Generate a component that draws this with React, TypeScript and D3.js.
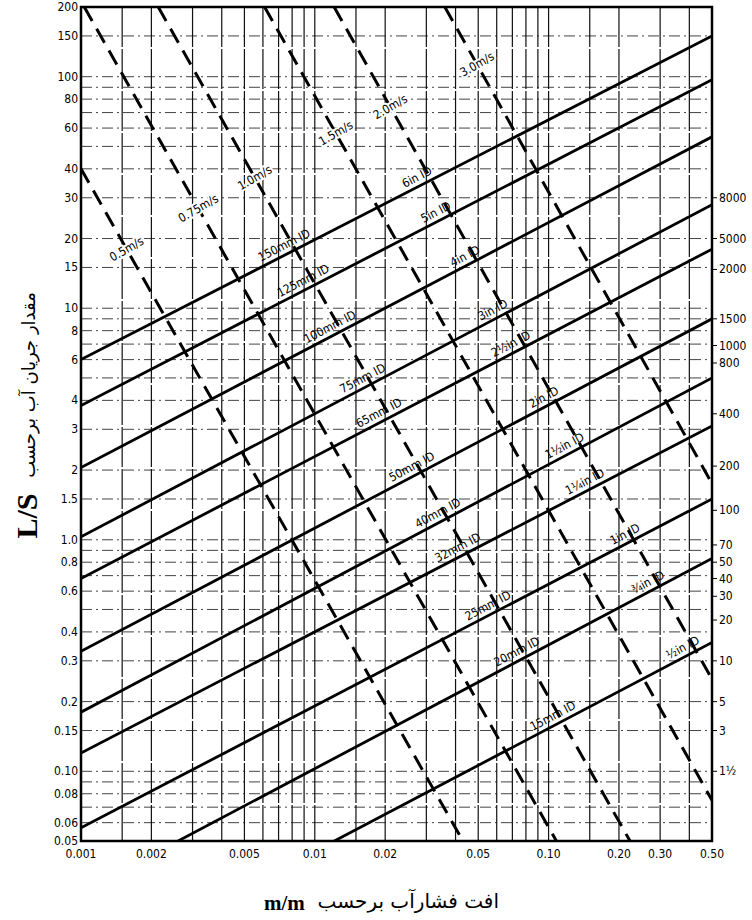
import React from 'react';
import * as d3 from 'd3';

const W = 752;
const H = 920;

// axis domains (pressure drop m/m, flow L/S)
const xDomain: [number, number] = [0.001, 0.5];
const yDomain: [number, number] = [0.05, 200];

const xGridValues = [0.0015, 0.002, 0.003, 0.004, 0.005, 0.006, 0.007, 0.008, 0.009, 0.01, 0.015, 0.02, 0.03, 0.04, 0.05, 0.06, 0.07, 0.08, 0.09, 0.1, 0.15, 0.2, 0.3, 0.4];
const yGridValues = [0.06, 0.07, 0.08, 0.09, 0.1, 0.15, 0.2, 0.3, 0.4, 0.5, 0.6, 0.7, 0.8, 0.9, 1, 1.5, 2, 3, 4, 5, 6, 7, 8, 9, 10, 15, 20, 30, 40, 50, 60, 70, 80, 90, 100, 150];

const xTickValues = [0.001, 0.002, 0.005, 0.01, 0.02, 0.05, 0.1, 0.2, 0.3, 0.5];
const xTickLabels = ['0.001', '0.002', '0.005', '0.01', '0.02', '0.05', '0.10', '0.20', '0.30', '0.50'];

const yTickValues = [200, 150, 100, 80, 60, 40, 30, 20, 15, 10, 8, 6, 4, 3, 2, 1.5, 1, 0.8, 0.6, 0.4, 0.3, 0.2, 0.15, 0.1, 0.08, 0.06, 0.05];
const yTickLabels = ['200', '150', '100', '80', '60', '40', '30', '20', '15', '10', '8', '6', '4', '3', '2', '1.5', '1.0', '0.8', '0.6', '0.4', '0.3', '0.2', '0.15', '0.10', '0.08', '0.06', '0.05'];

const rightLabels = ['8000', '5000', '2000', '1500', '1000', '800', '400', '200', '100', '70', '50', '40', '30', '20', '10', '5', '3', '1½'];
const rightLabelAtFlow = [30, 20, 14.7, 9, 6.9, 5.8, 3.5, 2.08, 1.34, 0.95, 0.8, 0.68, 0.57, 0.45, 0.3, 0.2, 0.15, 0.1];

// pipe size lines: flow at i=0.001 and at i=0.5
const pipeMmLabels = ['150mm ID', '125mm ID', '100mm ID', '75mm ID', '65mm ID', '50mm ID', '40mm ID', '32mm ID', '25mm ID', '20mm ID', '15mm ID'];
const pipeInLabels = ['6in ID', '5in ID', '4in ID', '3in ID', '2½in ID', '2in ID', '1½in ID', '1¼in ID', '1in ID', '¾in ID', '½in ID'];
const pipeFlowStart = [6, 3.8, 2.05, 1.03, 0.68, 0.33, 0.18, 0.12, 0.057, 0.03, 0.0133];
const pipeFlowEnd = [150, 97, 55, 28, 18, 9, 5, 3.1, 1.5, 0.83, 0.36];
const pipeMmLabelAt = [0.0077, 0.0093, 0.0121, 0.0167, 0.0196, 0.0271, 0.035, 0.0426, 0.0573, 0.0762, 0.1087];
const pipeInLabelAt = [0.0285, 0.0343, 0.0457, 0.0602, 0.0718, 0.0994, 0.122, 0.149, 0.221, 0.277, 0.391];

// velocity lines (dashed): two end points each
const velLabels = ['0.5m/s', '0.75m/s', '1.0m/s', '1.5m/s', '2.0m/s', '3.0m/s'];
const velStartDrop = [0.001, 0.001033, 0.00214, 0.0061, 0.0121, 0.036];
const velStartFlow = [40, 200, 200, 200, 200, 200];
const velEndDrop = [0.043, 0.108, 0.223, 0.5, 0.5, 0.5];
const velEndFlow = [0.05, 0.05, 0.05, 0.075, 0.25, 1.75];
const velLabelFlow = [18, 27, 36.6, 57, 74, 113];

const narrow = "'Liberation Sans Narrow','Arial Narrow','DejaVu Sans Condensed',sans-serif";

export default function App() {
  const x = d3.scaleLog().domain(xDomain).range([81, 712]);
  const y = d3.scaleLog().domain(yDomain).range([841, 7]);
  const line = d3.line<[number, number]>().x((d) => x(d[0])).y((d) => y(d[1]));
  const [x0, x1] = x.range();
  const [yb, yt] = y.range();

  return (
    <svg width={W} height={H} style={{ position: 'absolute', left: 0, top: 0, background: '#fff' }}>
      <defs>
        <clipPath id="plot">
          <rect x={x0} y={yt} width={x1 - x0} height={yb - yt} />
        </clipPath>
      </defs>
      <rect x={0} y={0} width={W} height={H} fill="#fff" />

      {/* grid */}
      <g>
        {yGridValues.map((v, k) => (
          <line key={'h' + k} x1={x0} x2={x1} y1={y(v)} y2={y(v)} stroke="#444" strokeWidth={1} strokeDasharray="11,4,2,4" />
        ))}
        {xGridValues.map((v, k) => (
          <line key={'v' + k} x1={x(v)} x2={x(v)} y1={yt} y2={yb} stroke="#111" strokeWidth={1.2} strokeDasharray="40,2" />
        ))}
      </g>

      {/* pipe lines */}
      <g clipPath="url(#plot)">
        {pipeFlowStart.map((qs, k) => (
          <path key={'p' + k} d={line([[xDomain[0], qs], [xDomain[1], pipeFlowEnd[k]]]) || ''} fill="none" stroke="#000" strokeWidth={2.8} />
        ))}
        {velLabels.map((_, k) => (
          <path key={'vl' + k} d={line([[velStartDrop[k], velStartFlow[k]], [velEndDrop[k], velEndFlow[k]]]) || ''} fill="none" stroke="#000" strokeWidth={3} strokeDasharray="16,9" />
        ))}
      </g>

      {/* pipe labels */}
      <g fontFamily={narrow} fontSize={12} fill="#000">
        {pipeFlowStart.map((qs, k) => {
          const qe = pipeFlowEnd[k];
          const kk = Math.log(qe / qs) / Math.log(xDomain[1] / xDomain[0]);
          const ang = (Math.atan2(y(qe) - y(qs), x(xDomain[1]) - x(xDomain[0])) * 180) / Math.PI;
          const items: [string, number][] = [
            [pipeMmLabels[k], pipeMmLabelAt[k]],
            [pipeInLabels[k], pipeInLabelAt[k]],
          ];
          return items.map(([txt, at], j) => {
            const q = qs * Math.pow(at / xDomain[0], kk);
            return (
              <text key={'pl' + k + '_' + j} transform={`translate(${x(at)},${y(q)}) rotate(${ang})`} y={-5} textAnchor="middle">
                {txt}
              </text>
            );
          });
        })}
      </g>

      {/* velocity labels */}
      <g fontFamily={narrow} fontSize={12} fill="#000">
        {velLabels.map((txt, k) => {
          const kk = Math.log(velEndFlow[k] / velStartFlow[k]) / Math.log(velEndDrop[k] / velStartDrop[k]);
          const q = velLabelFlow[k];
          const i = velStartDrop[k] * Math.pow(q / velStartFlow[k], 1 / kk);
          return (
            <text key={'vt' + k} transform={`translate(${x(i)},${y(q)}) rotate(-30)`} textAnchor="middle" dominantBaseline="central"
              stroke="#fff" strokeWidth={4} paintOrder="stroke" strokeLinejoin="round">
              {txt}
            </text>
          );
        })}
      </g>

      {/* frame */}
      <rect x={x0} y={yt} width={x1 - x0} height={yb - yt} fill="none" stroke="#000" strokeWidth={2.5} />

      {/* ticks */}
      <g fontFamily={narrow} fontSize={12} fill="#000">
        {yTickValues.map((v, k) => (
          <text key={'yt' + k} x={x0 - 3} y={y(v)} textAnchor="end" dominantBaseline="central">{yTickLabels[k]}</text>
        ))}
        {xTickValues.map((v, k) => (
          <text key={'xt' + k} x={x(v)} y={858} textAnchor="middle">{xTickLabels[k]}</text>
        ))}
        {rightLabels.map((t, k) => (
          <g key={'rt' + k}>
            <line x1={x1 + 1} x2={x1 + 5} y1={y(rightLabelAtFlow[k])} y2={y(rightLabelAtFlow[k])} stroke="#000" strokeWidth={1} />
            <text x={x1 + 7} y={y(rightLabelAtFlow[k])} dominantBaseline="central">{t}</text>
          </g>
        ))}
      </g>

      {/* axis titles */}
      <text x={264} y={910} fontFamily="'Liberation Serif','Times New Roman',serif" fontWeight="bold" fontSize={21}>m/m</text>
      <text x={499} y={908} textAnchor="end" fontFamily="'DejaVu Sans',sans-serif" fontSize={20}>افت فشارآب برحسب</text>
      <text transform={`translate(37,516) rotate(-90)`} textAnchor="middle" fontFamily="'Liberation Serif','Times New Roman',serif" fontWeight="bold" fontSize={30}>L/S</text>
      <text transform={`translate(35,385) rotate(-90)`} textAnchor="middle" fontFamily="'DejaVu Sans',sans-serif" fontSize={18}>مقدار جریان آب برحسب</text>
    </svg>
  );
}
